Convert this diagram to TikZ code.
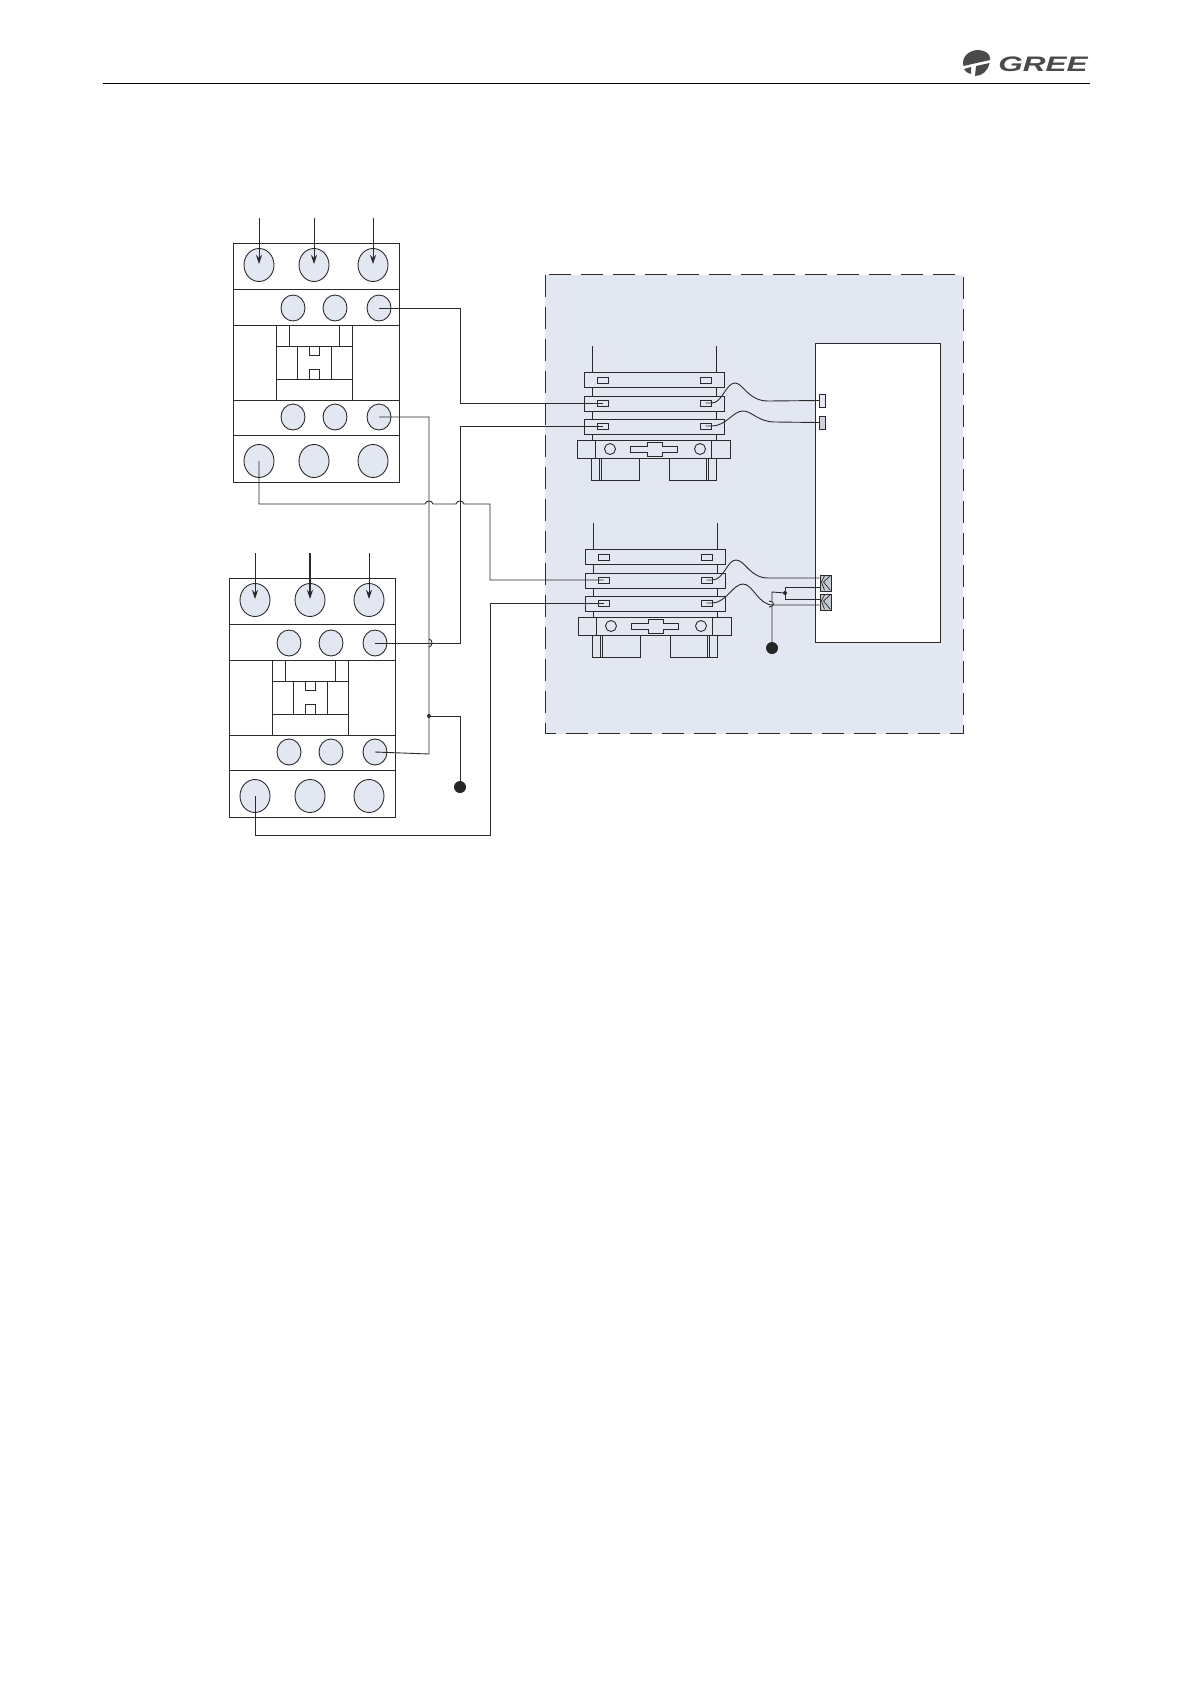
\documentclass[tikz,border=0pt]{standalone}
\usepackage{fontspec}
\usetikzlibrary{shapes.geometric,arrows.meta,calc}
\newfontfamily\logofont{Liberation Sans}
\definecolor{panel}{HTML}{E2E7F2}
\definecolor{ink}{HTML}{2A2A2A}
\definecolor{logogrey}{HTML}{4A4A4A}
\tikzset{
  part/.style={draw=ink,line width=0.9pt},
  bigpin/.style={ellipse,draw=ink,line width=0.9pt,fill=panel,minimum width=30pt,minimum height=33pt,inner sep=0pt},
  smallpin/.style={ellipse,draw=ink,line width=0.9pt,fill=panel,minimum width=24pt,minimum height=26pt,inner sep=0pt},
  wire/.style={draw=ink,line width=0.9pt,line join=miter},
  feed/.style={draw=ink,line width=0.9pt,-{Stealth[length=9pt,width=6pt]}},
  slot/.style={rectangle,draw=ink,line width=0.9pt,minimum width=11pt,minimum height=6pt,inner sep=0pt},
  bar/.style={rectangle,draw=ink,line width=0.9pt,fill=panel,minimum width=140pt,minimum height=15pt,inner sep=0pt},
  joint/.style={circle,fill=ink,minimum size=4pt,inner sep=0pt},
  earth/.style={circle,fill=black!85,minimum size=12pt,inner sep=0pt},
  ring/.style={circle,draw=ink,line width=0.9pt,minimum size=11pt,inner sep=0pt},
  clamp/.style={rectangle,draw=ink,line width=0.6pt,fill=panel!70!gray,minimum width=11pt,minimum height=16pt,inner sep=0pt},
  lug/.style={rectangle,draw=ink,line width=0.9pt,minimum width=6pt,minimum height=13pt,inner sep=0pt},
}
% contactor: #1 prefix, #2 dx, #3 dy
\newcommand{\contactorbody}[3]{%
\begin{scope}[shift={(#2,#3)}]
  \draw[part] (233,243) rectangle (399,482);
  \draw[part] (233,289)--(399,289) (233,325)--(399,325) (233,400)--(399,400) (233,435)--(399,435);
  \draw[part] (276,325) rectangle (352,400);
  \draw[part] (276,346)--(352,346) (276,379)--(352,379);
  \draw[part] (289,325)--(289,346) (339,325)--(339,346);
  \draw[part] (297,346)--(297,379) (331,346)--(331,379);
  \draw[part] (309,346) rectangle (319,355);
  \draw[part] (309,369) rectangle (319,379);
  \node[bigpin] (#1t1) at (259,265) {};
  \node[bigpin] (#1t2) at (314,265) {};
  \node[bigpin] (#1t3) at (373,265) {};
  \node[smallpin] (#1a1) at (293,308) {};
  \node[smallpin] (#1a2) at (335,308) {};
  \node[smallpin] (#1a3) at (379,308) {};
  \node[smallpin] (#1b1) at (293,417) {};
  \node[smallpin] (#1b2) at (335,417) {};
  \node[smallpin] (#1b3) at (379,417) {};
  \node[bigpin] (#1l1) at (259,461) {};
  \node[bigpin] (#1l2) at (314,461) {};
  \node[bigpin] (#1l3) at (373,461) {};
  \coordinate (#1f1) at (259,218);
  \coordinate (#1f2) at (314,218);
  \coordinate (#1f3) at (373,218);
\end{scope}}
% breaker: #1 prefix, #2 dx, #3 dy
\newcommand{\breakerbody}[3]{%
\begin{scope}[shift={(#2,#3)}]
  \coordinate (#1u1) at (592,346);
  \coordinate (#1u2) at (716,346);
  \draw[part] (#1u1)--(592,440) (#1u2)--(716,440);
  \node[bar] (#1bar1) at (654,379.5) {};
  \node[bar] (#1bar2) at (654,403.5) {};
  \node[bar] (#1bar3) at (654,426.5) {};
  \node[slot] (#1s1) at (602.5,380) {};
  \node[slot] (#1s2) at (705.5,380) {};
  \node[slot] (#1s3) at (602.5,403) {};
  \node[slot] (#1s4) at (705.5,403) {};
  \node[slot] (#1s5) at (602.5,426) {};
  \node[slot] (#1s6) at (705.5,426) {};
  \draw[part] (577,440) rectangle (730,458);
  \draw[part] (595,440)--(595,458) (711,440)--(711,458);
  \node[ring] (#1r1) at (610,449) {};
  \node[ring] (#1r2) at (700,449) {};
  \draw[part] (630,446)--(647,446)--(647,442)--(662,442)--(662,446)--(677,446)--(677,452)--(662,452)--(662,456)--(647,456)--(647,452)--(630,452)--cycle;
  \draw[part] (591,458)--(591,480)--(639,480)--(639,458);
  \draw[part] (599,458)--(599,480) (601,458)--(601,480);
  \draw[part] (669,458)--(669,480)--(716,480)--(716,458);
  \draw[part] (706,458)--(706,480) (708,458)--(708,480);
\end{scope}}
\begin{document}
\begin{tikzpicture}[x=1pt,y=-1pt]
\useasboundingbox (0,0) rectangle (1191,1684);
\fill[white] (0,0) rectangle (1191,1684);
% header
\draw[black,line width=1.6pt] (103,83.5)--(1090,83.5);
\fill[logogrey] (963,63) .. controls (963,54) and (972,50) .. (978,50) .. controls (985,50) and (990,54) .. (990,58) -- (990,60) -- (963.5,66) -- cycle;
\fill[logogrey] (964,69) -- (971,67) -- (971,74) .. controls (967,73) and (965,71) .. (964,69) -- cycle;
\fill[logogrey] (976,66) -- (989.5,63) .. controls (988,71) and (982,76) .. (975,76) -- cycle;
\node[font=\logofont\bfseries\itshape,text=logogrey,anchor=center,inner sep=0pt,xscale=1.5,transform shape] (logotext) at (1043,64.5) {\fontsize{21pt}{21pt}\selectfont GREE};
% panel
\draw[draw=ink,fill=panel,line width=0.9pt,dash pattern=on 22pt off 10pt] (545,274.5) rectangle (963,733.5);
\node[rectangle,draw=ink,fill=white,line width=0.9pt,minimum width=125pt,minimum height=299pt,inner sep=0pt] (module) at (877.5,492.5) {};
% units
\contactorbody{ca}{0}{0}
\contactorbody{cb}{-4}{335}
\breakerbody{ba}{0}{0}
\breakerbody{bb}{1}{177}
% feeders
\foreach \n in {1,2,3}{\draw[feed] (caf\n) -- ($(cat\n.center)+(0,-1)$);}
\foreach \n in {1,3}{\draw[feed] (cbf\n) -- ($(cbt\n.center)+(0,-1)$);}
\draw[feed,line width=1.4pt] (cbf2) -- ($(cbt2.center)+(0,-1)$);
% terminals on module
\node[lug,fill=panel] (lug1) at (822.5,400.5) {};
\node[lug,fill=panel!80!gray] (lug2) at (822.5,422.5) {};
\node[clamp] (clamp1) at (825.5,583) {};
\node[clamp] (clamp2) at (825.5,602) {};
\foreach \c in {clamp1,clamp2}{
  \draw[ink,line width=0.7pt] ($(\c.north east)+(-1,1)$) -- ($(\c.center)+(-2,-1)$) -- ($(\c.south east)+(-1,-1)$);
  \draw[ink,line width=0.7pt] ($(\c.north)+(-1,1)$) -- ($(\c.center)+(-4,-1)$) -- ($(\c.south)+(-1,-1)$);
}
% wires
\draw[wire] (caa3.center) -- (460,308) -- (460,403) -- (bas3.center);
\draw[wire] (bas5.center) -- (460,426) -- (460,643) -- (cba3.center);
\draw[wire] (cab3.center) -- (429,417) -- (429,754) -- (cbb3.center);
\draw[wire] (cal1.center) -- (259,504) -- (425,504) .. controls (426,500) and (432,500) .. (433,504) -- (456,504) .. controls (457,500) and (463,500) .. (464,504) -- (490,504) -- (490,580) -- (bbs3.center);
\draw[wire] (cbl1.center) -- (255,835) -- (490,835) -- (490,603) -- (bbs5.center);
\node[joint] (j1) at (429,716) {};
\node[earth] (g1) at (460,787) {};
\draw[wire] (j1) -- (460,716) -- (g1);
% hop on the vertical
\draw[wire] (429,639) .. controls (433,640) and (433,646) .. (429,647);
% module wires, upper
\draw[wire] (bas4.center) -- (712,403) .. controls (722,403) and (726,383) .. (735,383) .. controls (743,383) and (748,401) .. (768,401) -- (lug1.west);
\draw[wire] (bas6.center) -- (712,426) .. controls (726,426) and (733,411) .. (743,411) .. controls (752,411) and (758,422) .. (775,422) -- (lug2.west);
% module wires, lower
\draw[wire] (bbs4.center) -- (712,580) .. controls (724,580) and (727,560) .. (736,560) .. controls (745,560) and (750,578) .. (768,578) -- (clamp1.west|-0,578);
\draw[wire] (bbs6.center) -- (712,603) .. controls (726,603) and (733,584) .. (743,584) .. controls (753,584) and (758,605) .. (773,605) -- (clamp2.west|-0,605);
% earth, lower
\node[joint] (j2) at (785,593) {};
\node[earth] (g2) at (772,648) {};
\draw[wire] (g2) -- (772,607) (772,601) -- (772,592) -- (j2);
\draw[wire] (769,601) .. controls (775,601) and (775,607) .. (769,607);
\draw[wire] (j2) -- (785,587) -- (clamp1.west|-0,587);
\draw[wire] (j2) -- (785,599) -- (clamp2.west|-0,599);
\end{tikzpicture}
\end{document}
